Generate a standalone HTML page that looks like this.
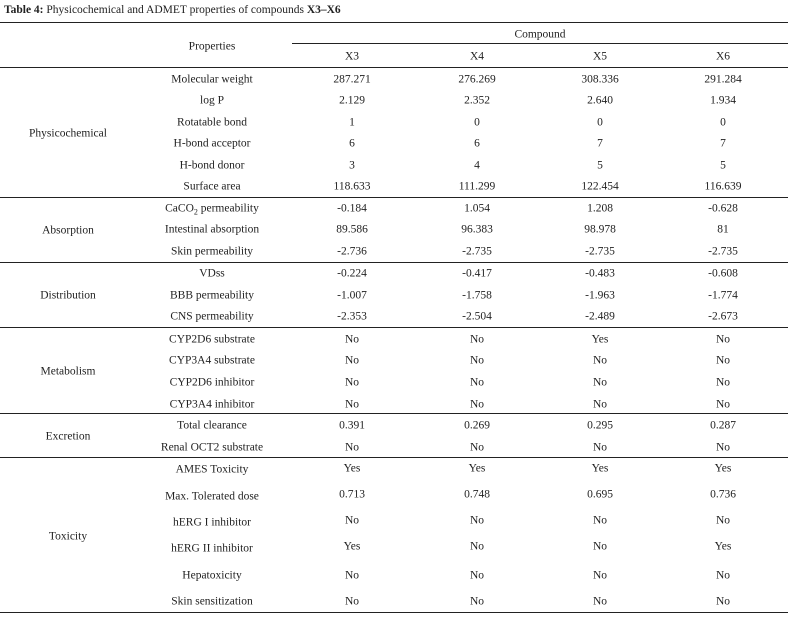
<!DOCTYPE html>
<html><head><meta charset="utf-8"><style>
body{margin:0;width:792px;height:618px;background:#fff;position:relative;font-family:"Liberation Serif",serif;font-size:11.5px;color:#222;overflow:hidden}
.t{position:absolute;transform:translate(-50%,-45%);white-space:nowrap;line-height:14px}
.t sub{font-size:8px;vertical-align:baseline;position:relative;top:3px;line-height:0}
.l{position:absolute;left:0;width:788px;height:1.3px;background:#222}
</style></head><body>
<div style="position:absolute;left:4px;top:4px;font-size:11.5px;white-space:nowrap"><b>Table 4:</b> Physicochemical and ADMET properties of compounds <b>X3–X6</b></div>
<div class="l" style="top:22px"></div>
<div class="l" style="top:43px;left:292px;width:496px;height:1px"></div>
<div class="l" style="top:67px"></div>
<div class="l" style="top:197px"></div>
<div class="l" style="top:262px"></div>
<div class="l" style="top:327px"></div>
<div class="l" style="top:413px"></div>
<div class="l" style="top:457px"></div>
<div class="l" style="top:612px"></div>

<div class="t" style="left:212px;top:46px">Properties</div>
<div class="t" style="left:540px;top:34px">Compound</div>
<div class="t" style="left:352px;top:56px">X3</div><div class="t" style="left:477px;top:56px">X4</div><div class="t" style="left:600px;top:56px">X5</div><div class="t" style="left:723px;top:56px">X6</div>

<div class="t" style="left:68px;top:133px">Physicochemical</div>
<div class="t" style="left:68px;top:230px">Absorption</div>
<div class="t" style="left:68px;top:295px">Distribution</div>
<div class="t" style="left:68px;top:371px">Metabolism</div>
<div class="t" style="left:68px;top:436px">Excretion</div>
<div class="t" style="left:68px;top:536px">Toxicity</div>

<div class="t" style="left:212px;top:79px">Molecular weight</div><div class="t" style="left:352px;top:79px">287.271</div><div class="t" style="left:477px;top:79px">276.269</div><div class="t" style="left:600px;top:79px">308.336</div><div class="t" style="left:723px;top:79px">291.284</div>
<div class="t" style="left:212px;top:100px">log P</div><div class="t" style="left:352px;top:100px">2.129</div><div class="t" style="left:477px;top:100px">2.352</div><div class="t" style="left:600px;top:100px">2.640</div><div class="t" style="left:723px;top:100px">1.934</div>
<div class="t" style="left:212px;top:122px">Rotatable bond</div><div class="t" style="left:352px;top:122px">1</div><div class="t" style="left:477px;top:122px">0</div><div class="t" style="left:600px;top:122px">0</div><div class="t" style="left:723px;top:122px">0</div>
<div class="t" style="left:212px;top:143px">H-bond acceptor</div><div class="t" style="left:352px;top:143px">6</div><div class="t" style="left:477px;top:143px">6</div><div class="t" style="left:600px;top:143px">7</div><div class="t" style="left:723px;top:143px">7</div>
<div class="t" style="left:212px;top:165px">H-bond donor</div><div class="t" style="left:352px;top:165px">3</div><div class="t" style="left:477px;top:165px">4</div><div class="t" style="left:600px;top:165px">5</div><div class="t" style="left:723px;top:165px">5</div>
<div class="t" style="left:212px;top:186px">Surface area</div><div class="t" style="left:352px;top:186px">118.633</div><div class="t" style="left:477px;top:186px">111.299</div><div class="t" style="left:600px;top:186px">122.454</div><div class="t" style="left:723px;top:186px">116.639</div>

<div class="t" style="left:212px;top:208px">CaCO<sub>2</sub> permeability</div><div class="t" style="left:352px;top:208px">-0.184</div><div class="t" style="left:477px;top:208px">1.054</div><div class="t" style="left:600px;top:208px">1.208</div><div class="t" style="left:723px;top:208px">-0.628</div>
<div class="t" style="left:212px;top:229px">Intestinal absorption</div><div class="t" style="left:352px;top:229px">89.586</div><div class="t" style="left:477px;top:229px">96.383</div><div class="t" style="left:600px;top:229px">98.978</div><div class="t" style="left:723px;top:229px">81</div>
<div class="t" style="left:212px;top:251px">Skin permeability</div><div class="t" style="left:352px;top:251px">-2.736</div><div class="t" style="left:477px;top:251px">-2.735</div><div class="t" style="left:600px;top:251px">-2.735</div><div class="t" style="left:723px;top:251px">-2.735</div>

<div class="t" style="left:212px;top:273px">VDss</div><div class="t" style="left:352px;top:273px">-0.224</div><div class="t" style="left:477px;top:273px">-0.417</div><div class="t" style="left:600px;top:273px">-0.483</div><div class="t" style="left:723px;top:273px">-0.608</div>
<div class="t" style="left:212px;top:295px">BBB permeability</div><div class="t" style="left:352px;top:295px">-1.007</div><div class="t" style="left:477px;top:295px">-1.758</div><div class="t" style="left:600px;top:295px">-1.963</div><div class="t" style="left:723px;top:295px">-1.774</div>
<div class="t" style="left:212px;top:316px">CNS permeability</div><div class="t" style="left:352px;top:316px">-2.353</div><div class="t" style="left:477px;top:316px">-2.504</div><div class="t" style="left:600px;top:316px">-2.489</div><div class="t" style="left:723px;top:316px">-2.673</div>

<div class="t" style="left:212px;top:339px">CYP2D6 substrate</div><div class="t" style="left:352px;top:339px">No</div><div class="t" style="left:477px;top:339px">No</div><div class="t" style="left:600px;top:339px">Yes</div><div class="t" style="left:723px;top:339px">No</div>
<div class="t" style="left:212px;top:360px">CYP3A4 substrate</div><div class="t" style="left:352px;top:360px">No</div><div class="t" style="left:477px;top:360px">No</div><div class="t" style="left:600px;top:360px">No</div><div class="t" style="left:723px;top:360px">No</div>
<div class="t" style="left:212px;top:382px">CYP2D6 inhibitor</div><div class="t" style="left:352px;top:382px">No</div><div class="t" style="left:477px;top:382px">No</div><div class="t" style="left:600px;top:382px">No</div><div class="t" style="left:723px;top:382px">No</div>
<div class="t" style="left:212px;top:404px">CYP3A4 inhibitor</div><div class="t" style="left:352px;top:404px">No</div><div class="t" style="left:477px;top:404px">No</div><div class="t" style="left:600px;top:404px">No</div><div class="t" style="left:723px;top:404px">No</div>

<div class="t" style="left:212px;top:425px">Total clearance</div><div class="t" style="left:352px;top:425px">0.391</div><div class="t" style="left:477px;top:425px">0.269</div><div class="t" style="left:600px;top:425px">0.295</div><div class="t" style="left:723px;top:425px">0.287</div>
<div class="t" style="left:212px;top:447px">Renal OCT2 substrate</div><div class="t" style="left:352px;top:447px">No</div><div class="t" style="left:477px;top:447px">No</div><div class="t" style="left:600px;top:447px">No</div><div class="t" style="left:723px;top:447px">No</div>

<div class="t" style="left:212px;top:469px">AMES Toxicity</div><div class="t" style="left:352px;top:468px">Yes</div><div class="t" style="left:477px;top:468px">Yes</div><div class="t" style="left:600px;top:468px">Yes</div><div class="t" style="left:723px;top:468px">Yes</div>
<div class="t" style="left:212px;top:496px">Max. Tolerated dose</div><div class="t" style="left:352px;top:494px">0.713</div><div class="t" style="left:477px;top:494px">0.748</div><div class="t" style="left:600px;top:494px">0.695</div><div class="t" style="left:723px;top:494px">0.736</div>
<div class="t" style="left:212px;top:522px">hERG I inhibitor</div><div class="t" style="left:352px;top:520px">No</div><div class="t" style="left:477px;top:520px">No</div><div class="t" style="left:600px;top:520px">No</div><div class="t" style="left:723px;top:520px">No</div>
<div class="t" style="left:212px;top:548px">hERG II inhibitor</div><div class="t" style="left:352px;top:546px">Yes</div><div class="t" style="left:477px;top:546px">No</div><div class="t" style="left:600px;top:546px">No</div><div class="t" style="left:723px;top:546px">Yes</div>
<div class="t" style="left:212px;top:575px">Hepatoxicity</div><div class="t" style="left:352px;top:575px">No</div><div class="t" style="left:477px;top:575px">No</div><div class="t" style="left:600px;top:575px">No</div><div class="t" style="left:723px;top:575px">No</div>
<div class="t" style="left:212px;top:601px">Skin sensitization</div><div class="t" style="left:352px;top:601px">No</div><div class="t" style="left:477px;top:601px">No</div><div class="t" style="left:600px;top:601px">No</div><div class="t" style="left:723px;top:601px">No</div>
</body></html>
